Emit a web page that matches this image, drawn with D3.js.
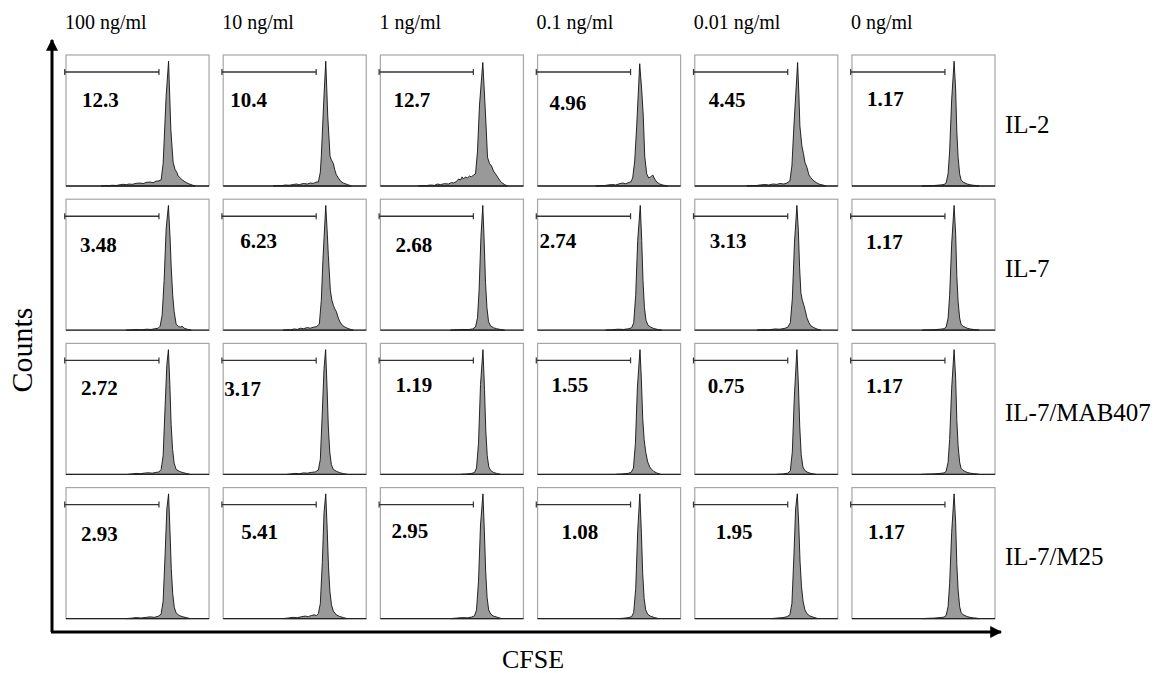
<!DOCTYPE html>
<html>
  <head>
    <script src="https://cdn.jsdelivr.net/npm/d3@7"></script>
    <style type="text/css">
      body {
        margin: 0;
        background: #fff;
      }
      text {
        font-family: "Liberation Serif", "Times New Roman", serif;
        fill: #000;
      }
    </style>
  </head>
  <body>
    <script type="text/javascript">
      // Column headers (cytokine concentration) and row labels (treatment)
      var concentrations = ["100 ng/ml", "10 ng/ml", "1 ng/ml", "0.1 ng/ml", "0.01 ng/ml", "0 ng/ml"];
      var treatments = ["IL-2", "IL-7", "IL-7/MAB407", "IL-7/M25"];

      // % of cells inside the divided-cells gate, one row per treatment
      var gatePercents = [
        [12.3, 10.4, 12.7, 4.96, 4.45, 1.17],
        [3.48, 6.23, 2.68, 2.74, 3.13, 1.17],
        [2.72, 3.17, 1.19, 1.55, 0.75, 1.17],
        [2.93, 5.41, 2.95, 1.08, 1.95, 1.17]
      ];

      // CFSE gate (channel units, 0-1000)
      var gateRange = [5, 650];

      // Histograms: [CFSE channel, % of max count]
      var histIL2 = [
        [[245,0],[259,0.4],[294,0.2],[322,0.6],[350,0.4],[378,1],[399,1.4],[420,1],[441,1.6],[462,1.3],[490,2.1],[518,2.4],[539,1.9],[560,2.9],[588,3.2],[609,2.6],[630,3.9],[644,4],[665,4.8],[679,18],[700,72],[717,100],[733,45],[749,19],[763,13],[775,11],[784,8],[798,6.5],[812,5],[833,3.2],[854,2],[882,0.8],[903,0]],
        [[350,0],[371,0.4],[406,0.2],[434,0.8],[462,0.6],[490,1.2],[511,1.6],[532,1.1],[560,2],[588,1.6],[609,2.4],[630,2.1],[651,3.2],[665,3.2],[679,11],[686,24],[705,73],[717,100],[731,56],[747,24],[756,21],[770,18],[780,13],[791,9],[805,6.5],[819,4],[840,2.4],[868,1.2],[896,0]],
        [[266,0],[280,0.4],[315,0.2],[350,0.8],[378,0.5],[399,1.6],[420,1.1],[448,1.9],[476,1.6],[497,2.8],[511,2.4],[532,3.6],[546,5.6],[560,4.8],[571,7.3],[581,5.6],[595,7.3],[609,6.5],[623,8],[637,7.3],[651,8.9],[665,9.7],[679,28],[693,65],[716,99],[728,73],[739,48],[749,23],[763,18],[777,16],[791,12],[805,9.7],[819,7.3],[833,4.8],[847,2.8],[868,1.2],[889,0]],
        [[406,0],[427,0.4],[462,0.2],[490,0.8],[525,1.2],[546,0.8],[574,1.9],[595,2.4],[616,1.8],[637,2.8],[651,3.2],[665,6.5],[679,20],[693,48],[714,98],[728,77],[739,56],[749,24],[763,9.7],[777,6.5],[791,7.3],[805,8.9],[819,5.6],[833,3.2],[854,1.6],[875,0.8],[910,0]],
        [[364,0],[385,0.4],[420,0.2],[455,0.8],[490,1.2],[518,0.8],[546,1.6],[574,1.3],[595,2],[623,1.6],[644,2.4],[665,4],[679,16],[693,48],[719,99],[728,73],[735,48],[749,32],[760,26],[770,19],[784,15],[798,8.9],[812,6.5],[833,4],[854,2.4],[875,1.2],[896,0.8],[917,0]]
      ];
      var histIL7 = [
        [[420,0],[448,0.2],[490,0.5],[532,0.3],[560,0.8],[595,0.6],[623,1.2],[644,1.6],[658,3.2],[672,12],[686,40],[700,81],[716,100],[728,73],[735,52],[746,28],[756,15],[770,4.8],[784,3.2],[798,2.4],[812,3.2],[826,1.6],[847,0.8],[875,0]],
        [[420,0],[441,0.4],[469,0.2],[497,1],[518,0.6],[539,1.6],[560,1.2],[588,2.1],[609,1.6],[630,2.4],[651,2.8],[672,4.8],[686,24],[697,56],[717,100],[728,77],[735,60],[749,32],[760,24],[770,20],[781,17],[791,15],[805,9.7],[817,6.5],[833,4],[852,2.4],[868,1.6],[887,0.8],[910,0]],
        [[490,0],[532,0.3],[574,0.6],[616,0.5],[644,1],[665,2.5],[679,10],[690,32],[703,75],[716,100],[726,70],[735,38],[745,18],[756,7],[770,3.5],[791,2],[812,1.2],[840,0.6],[868,0]],
        [[476,0],[518,0.3],[560,0.8],[602,0.6],[637,1.2],[658,2],[672,6],[686,28],[700,72],[718,100],[728,72],[737,40],[747,18],[758,8],[772,4],[791,2.4],[812,1.4],[840,0.6],[868,0]],
        [[434,0],[476,0.4],[518,0.3],[560,1],[595,0.8],[630,1.5],[651,2.5],[668,6],[682,25],[697,70],[714,100],[724,80],[733,50],[742,30],[752,24],[763,20],[772,16],[784,10],[798,6],[812,3.5],[833,2],[854,1],[880,0]]
      ];
      var histMAB407 = [
        [[434,0],[462,0.3],[490,0.8],[518,0.5],[546,1],[574,1.3],[602,1],[630,1.6],[651,2],[665,4],[679,15],[693,55],[705,88],[716,100],[726,72],[735,40],[745,20],[756,9],[770,4],[791,2.5],[812,1.6],[840,0.8],[868,0]],
        [[448,0],[476,0.4],[504,0.8],[532,0.5],[560,1.2],[588,1],[616,1.6],[644,2],[665,3.5],[679,12],[693,50],[705,85],[716,100],[726,70],[735,38],[745,18],[756,8],[770,4],[791,2.5],[812,1.5],[840,0.6],[868,0]],
        [[560,0],[602,0.3],[637,0.8],[658,1.5],[672,5],[686,25],[700,72],[717,100],[728,68],[737,35],[747,15],[758,6],[772,3],[791,1.6],[812,0.8],[840,0]],
        [[546,0],[588,0.3],[630,0.8],[654,1.6],[670,5],[684,25],[698,70],[716,100],[726,75],[735,45],[745,28],[756,18],[770,10],[784,6],[798,4],[812,2.4],[833,1.2],[861,0]],
        [[574,0],[616,0.3],[651,1],[668,3],[682,18],[696,62],[714,100],[725,70],[734,38],[744,16],[756,6],[770,3],[791,1.5],[819,0.6],[847,0]]
      ];
      var histM25 = [
        [[420,0],[455,0.3],[490,0.8],[525,0.5],[560,1],[588,1.4],[616,1],[644,1.8],[665,3.5],[679,14],[693,52],[705,88],[717,100],[727,70],[736,40],[746,20],[757,9],[770,4.5],[791,2.5],[812,1.6],[840,0.8],[868,0]],
        [[420,0],[455,0.5],[490,1],[518,0.7],[546,1.5],[574,2],[595,1.5],[616,2.5],[637,3],[651,2.4],[665,4],[679,12],[693,45],[705,85],[717,100],[727,72],[736,42],[746,22],[757,11],[770,6],[791,3],[812,1.8],[840,0.8],[868,0]],
        [[490,0],[532,0.4],[574,0.8],[609,0.6],[637,1.2],[658,2.2],[672,7],[686,30],[700,75],[717,100],[727,70],[736,38],[746,17],[757,7],[772,3.5],[791,2],[819,1],[847,0]],
        [[560,0],[602,0.3],[637,0.8],[658,1.6],[672,5],[686,24],[700,70],[715,100],[726,68],[735,36],[745,16],[756,7],[770,3.5],[791,1.8],[819,0.8],[847,0]],
        [[532,0],[574,0.4],[616,0.8],[644,1.5],[665,3],[679,12],[693,50],[705,88],[717,100],[727,75],[736,46],[746,26],[757,14],[770,7],[784,4],[805,2],[833,1],[861,0]]
      ];
      // 0 ng/ml control, same sample shown in every row
      var histControl = [[490,0],[525,0.2],[574,0.4],[616,0.8],[644,1.2],[658,2.4],[672,9.7],[683,28],[697,69],[714,100],[725,77],[733,44],[742,23],[753,9.7],[763,4.8],[777,3.2],[791,2.4],[805,1.6],[826,1],[847,0.6],[868,0.4],[889,0]];

      var histograms = [histIL2, histIL7, histMAB407, histM25].map(function(r) { return r.concat([histControl]); });

      // where the % label sits inside each panel (dx, baseline dy)
      var labelNudge = [
        [[16,52],[7,52],[13,52],[12,55],[14,52],[15,51]],
        [[14,53],[17,49],[15,53],[2,49],[15,49],[14,50]],
        [[15,52],[1,53],[15,49],[14,49],[13,50],[14,50]],
        [[15,53],[18,51],[11,50],[24,51],[21,51],[16,51]]
      ];

      var w = 1168, h = 673;

      var svg = d3.select("body").append("svg")
          .attr("width", w)
          .attr("height", h);

      // panel grid
      var colScale = d3.scaleBand()
          .domain(d3.range(concentrations.length))
          .range([66, 995])
          .paddingInner(0.09);
      var rowScale = d3.scaleBand()
          .domain(d3.range(treatments.length))
          .range([55, 618.6])
          .paddingInner(0.0915);

      var pw = colScale.bandwidth(),
          ph = rowScale.bandwidth();

      // inside one panel
      var xScale = d3.scaleLinear().domain([0, 1000]).range([0, pw]);
      var yScale = d3.scaleLinear().domain([0, 105]).range([ph, 0]);

      var area = d3.area()
          .x(function(d) { return xScale(d[0]); })
          .y0(ph)
          .y1(function(d) { return yScale(d[1]); });

      // arrow heads
      var defs = svg.append("defs");
      defs.append("marker")
          .attr("id", "arrow")
          .attr("viewBox", "0 0 10 10")
          .attr("refX", 9).attr("refY", 5)
          .attr("markerWidth", 4).attr("markerHeight", 4)
          .attr("orient", "auto")
        .append("path")
          .attr("d", "M0,0 L10,5 L0,10 Z")
          .attr("fill", "#000");

      var cells = [];
      treatments.forEach(function(t, r) {
        concentrations.forEach(function(c, ci) {
          cells.push({ r: r, c: ci, hist: histograms[r][ci], pct: gatePercents[r][ci], nudge: labelNudge[r][ci] });
        });
      });

      var panel = svg.selectAll("g.panel")
          .data(cells)
          .enter()
          .append("g")
          .attr("class", "panel")
          .attr("transform", function(d) { return "translate(" + [colScale(d.c), rowScale(d.r)] + ")"; });

      panel.append("rect")
          .attr("width", pw)
          .attr("height", ph)
          .attr("fill", "#fff")
          .attr("stroke", "#a6a6a6")
          .attr("stroke-width", 1.2);

      panel.append("path")
          .attr("d", function(d) { return area(d.hist); })
          .attr("fill", "#999")
          .attr("stroke", "#111")
          .attr("stroke-width", 0.9)
          .attr("stroke-linejoin", "round");

      // dark baseline of each histogram
      panel.append("line")
          .attr("x1", 0).attr("x2", pw)
          .attr("y1", ph).attr("y2", ph)
          .attr("stroke", "#222")
          .attr("stroke-width", 1.3);

      // gate bar
      var gateY = 17;
      panel.append("line")
          .attr("x1", xScale(gateRange[0]) - 2).attr("x2", xScale(gateRange[1]))
          .attr("y1", gateY).attr("y2", gateY)
          .attr("stroke", "#333").attr("stroke-width", 1.4);
      gateRange.forEach(function(g, i) {
        panel.append("line")
            .attr("x1", xScale(g) - (i ? 0 : 2)).attr("x2", xScale(g) - (i ? 0 : 2))
            .attr("y1", gateY - 3).attr("y2", gateY + 3)
            .attr("stroke", "#333").attr("stroke-width", 1.2);
      });

      panel.append("text")
          .attr("x", function(d) { return d.nudge[0]; })
          .attr("y", function(d) { return d.nudge[1]; })
          .attr("font-size", 21)
          .attr("font-weight", "bold")
          .text(function(d) { return String(d.pct); });

      // column headers
      svg.selectAll("text.col")
          .data(concentrations)
          .enter()
          .append("text")
          .attr("class", "col")
          .attr("x", function(d, i) { return colScale(i) - 1; })
          .attr("y", 29)
          .attr("font-size", 20)
          .text(function(d) { return d; });

      // row labels
      svg.selectAll("text.row")
          .data(treatments)
          .enter()
          .append("text")
          .attr("class", "row")
          .attr("x", 1005)
          .attr("y", function(d, i) { return rowScale(i) + ph / 2 + 12; })
          .attr("font-size", 25)
          .text(function(d) { return d; });

      // axes with arrows
      svg.append("line")
          .attr("x1", 52).attr("y1", 632)
          .attr("x2", 52).attr("y2", 40)
          .attr("stroke", "#000").attr("stroke-width", 3)
          .attr("marker-end", "url(#arrow)");
      svg.append("line")
          .attr("x1", 51).attr("y1", 632)
          .attr("x2", 1001).attr("y2", 632)
          .attr("stroke", "#000").attr("stroke-width", 3)
          .attr("marker-end", "url(#arrow)");

      svg.append("text")
          .attr("x", 533)
          .attr("y", 668)
          .attr("text-anchor", "middle")
          .attr("font-size", 26)
          .text("CFSE");

      svg.append("text")
          .attr("transform", "translate(32,350) rotate(-90)")
          .attr("text-anchor", "middle")
          .attr("font-size", 30)
          .text("Counts");
    </script>
  </body>
</html>
